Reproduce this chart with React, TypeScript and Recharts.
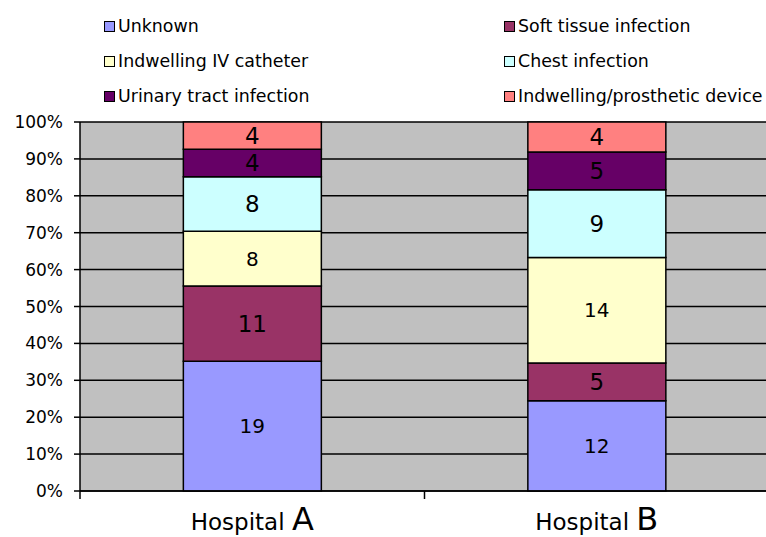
import React from "react";
import { BarChart, Bar, XAxis, YAxis, CartesianGrid, LabelList } from "recharts";

const categories = ["Hospital A", "Hospital B"];
const unknown = [19, 12];
const softTissue = [11, 5];
const ivCatheter = [8, 14];
const chest = [8, 9];
const urinary = [4, 5];
const prosthetic = [4, 4];
const yTicks = [0, 0.1, 0.2, 0.3, 0.4, 0.5, 0.6, 0.7, 0.8, 0.9, 1];
const boundaryTicks = [0, 1, 2];

const series = [
  { key: "unknown", name: "Unknown", values: unknown, color: "#9999FF", labelSize: 20 },
  { key: "soft", name: "Soft tissue infection", values: softTissue, color: "#993366", labelSize: 23 },
  { key: "iv", name: "Indwelling IV catheter", values: ivCatheter, color: "#FFFFCC", labelSize: 20 },
  { key: "chest", name: "Chest infection", values: chest, color: "#CCFFFF", labelSize: 23 },
  { key: "urinary", name: "Urinary tract infection", values: urinary, color: "#660066", labelSize: 23 },
  { key: "prosthetic", name: "Indwelling/prosthetic device", values: prosthetic, color: "#FF8080", labelSize: 23 },
];

const data = categories.map((name, i) => {
  const row: Record<string, any> = { name, pos: i + 0.5 };
  series.forEach((s) => (row[s.key] = s.values[i]));
  return row;
});

const FONT = "'DejaVu Sans', 'Liberation Sans', Arial, sans-serif";

const HospitalTick = (props: any) => {
  const { x, y, payload } = props;
  const label = String(payload.value);
  const i = label.lastIndexOf(" ");
  return (
    <text x={x} y={y + 38} textAnchor="middle" fontFamily={FONT} fill="#000" style={{ whiteSpace: "pre" }}>
      <tspan fontSize={23}>{label.slice(0, i + 1)}</tspan>
      <tspan fontSize={32}>{label.slice(i + 1)}</tspan>
    </text>
  );
};

const BoundaryTick = (props: any) => {
  const { x, y } = props;
  return <line x1={x} x2={x} y1={y} y2={y + 8} stroke="#000" strokeWidth={1.5} />;
};

const Legend = () => (
  <div style={{ position: "absolute", left: 0, top: 0, width: 766, height: 110, fontFamily: FONT, fontSize: 17.4, color: "#000" }}>
    {series.map((s, i) => {
      const col = i % 2;
      const row = Math.floor(i / 2);
      return (
        <div
          key={s.key}
          style={{
            position: "absolute",
            left: col === 0 ? 104 : 504,
            top: 16 + row * 35,
            height: 20,
            display: "flex",
            alignItems: "center",
            whiteSpace: "nowrap",
          }}
        >
          <div style={{ width: 11, height: 11, boxSizing: "border-box", border: "1.5px solid #000", background: s.color }} />
          <span style={{ marginLeft: 3, lineHeight: "20px" }}>{s.name}</span>
        </div>
      );
    })}
  </div>
);

export default function App() {
  return (
    <div style={{ position: "absolute", left: 0, top: 0, width: 766, height: 537, overflow: "hidden", background: "#fff" }}>
      <BarChart
        width={770}
        height={537}
        data={data}
        stackOffset="expand"
        barCategoryGap="30%"
        margin={{ top: 122, right: 1, bottom: 0, left: 0 }}
      >
        <CartesianGrid xAxisId="main" vertical={false} stroke="#000" strokeWidth={1.5} fill="#C0C0C0" fillOpacity={1} />
        <XAxis
          xAxisId="frame"
          dataKey="pos"
          type="number"
          domain={[0, 2]}
          allowDataOverflow
          ticks={boundaryTicks}
          interval={0}
          height={1}
          axisLine={{ stroke: "#000", strokeWidth: 1.5 }}
          tickLine={false}
          tickSize={0}
          tickMargin={0}
          tick={<BoundaryTick />}
        />
        <XAxis
          xAxisId="main"
          dataKey="name"
          height={45}
          axisLine={false}
          tickLine={false}
          tickSize={0}
          tickMargin={0}
          tick={<HospitalTick />}
          interval={0}
        />
        <YAxis
          type="number"
          domain={[0, 1]}
          ticks={yTicks}
          width={80}
          axisLine={{ stroke: "#000", strokeWidth: 1.5 }}
          tickLine={{ stroke: "#000", strokeWidth: 1.5 }}
          tickSize={6}
          tickMargin={11}
          tick={{ fill: "#000", fontSize: 17, fontFamily: FONT }}
          tickFormatter={(v: number) => `${Math.round(v * 100)}%`}
        />
        {series.map((s) => (
          <Bar
            key={s.key}
            xAxisId="main"
            dataKey={s.key}
            name={s.name}
            stackId="a"
            fill={s.color}
            stroke="#000"
            strokeWidth={1.5}
            isAnimationActive={false}
          >
            <LabelList dataKey={s.key} position="center" fill="#000" fontSize={s.labelSize} fontFamily={FONT} />
          </Bar>
        ))}
      </BarChart>
      <Legend />
    </div>
  );
}
